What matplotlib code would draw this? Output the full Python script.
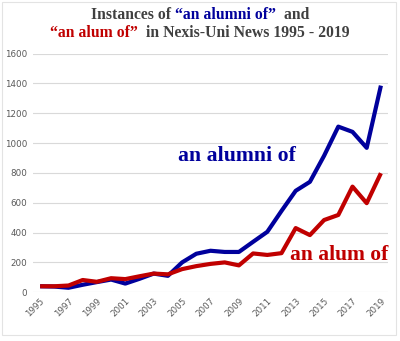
import matplotlib.pyplot as plt
from matplotlib.patches import Rectangle
import numpy as np

years = list(range(1995, 2020))
alumni = [40, 38, 30, 50, 68, 85, 58, 90, 125, 110, 200, 258, 278, 270, 270, 338, 405, 545, 680, 740, 915, 1110, 1075, 968, 1385]
alum = [40, 40, 45, 82, 70, 94, 88, 107, 125, 120, 155, 175, 190, 200, 180, 260, 250, 262, 430, 383, 484, 518, 708, 597, 798]
ytick_vals = [0, 200, 400, 600, 800, 1000, 1200, 1400, 1600]

blue = '#00009c'
red = '#c00000'
gray = '#404040'

fig = plt.figure(figsize=(4, 3.41), dpi=100)
ax = fig.add_axes([0.0825, 0.143, 0.8875, 0.70])

x = np.arange(len(years))
ax.plot(x, alumni, color=blue, linewidth=3.0, solid_capstyle='butt', solid_joinstyle='round')
ax.plot(x, alum, color=red, linewidth=3.0, solid_capstyle='butt', solid_joinstyle='round')

ax.set_xlim(-0.5, len(years) - 0.5)
ax.set_ylim(0, 1600)
ax.set_yticks(ytick_vals)
ax.set_yticklabels([str(v) for v in ytick_vals], fontsize=6.3, color='#595959')
ax.set_xticks(x[::2])
ax.set_xticklabels([str(y) for y in years[::2]], fontsize=6.3, color='#595959',
                   rotation=45, ha='right', va='top', rotation_mode='anchor')
ax.tick_params(length=0, pad=4)
ax.tick_params(axis='x', pad=3)
ax.grid(axis='y', color='#d9d9d9', linewidth=0.8)
ax.set_axisbelow(True)
for s in ax.spines.values():
    s.set_visible(False)

# series labels
ax.text(9.7, 910, 'an alumni of', color=blue, fontsize=15.7, fontweight='bold',
        family='Liberation Serif', va='center', ha='left')
ax.text(17.6, 250, 'an alum of', color=red, fontsize=15.5, fontweight='bold',
        family='Liberation Serif', va='center', ha='left')

# two-line title with coloured quotes
def colour_line(pieces, y):
    fig.canvas.draw()
    r = fig.canvas.get_renderer()
    texts = []
    for s, c in pieces:
        t = fig.text(0, y, s, color=c, fontsize=11.3, fontweight='bold',
                     family='Liberation Serif', va='center', ha='left')
        texts.append(t)
    widths = [t.get_window_extent(r).width for t in texts]
    total = sum(widths)
    figw = fig.bbox.width
    xpos = (figw - total) / 2 / figw
    for t, w in zip(texts, widths):
        t.set_x(xpos)
        xpos += w / figw

colour_line([('Instances of ', gray), ('\u201can alumni of\u201d', blue), ('  and', gray)], 0.955)
colour_line([('\u201can alum of\u201d', red), ('  in Nexis-Uni News 1995 - 2019', gray)], 0.902)

fig.patches.append(Rectangle((0.005, 0.018), 0.985, 0.975, transform=fig.transFigure,
                             fill=False, edgecolor='#e3e3e3', linewidth=0.8))

fig.savefig('out.png', dpi=100)
